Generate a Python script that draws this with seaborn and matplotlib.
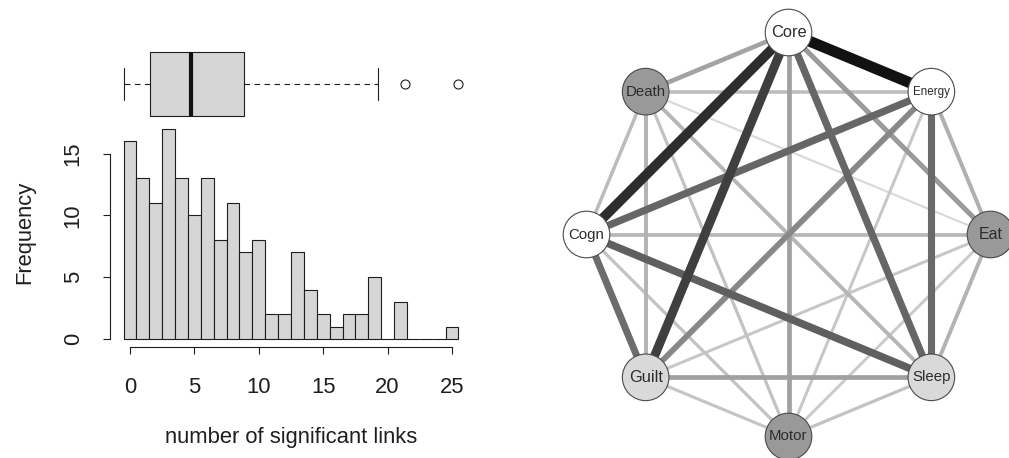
import numpy as np
import matplotlib
matplotlib.use("Agg")
import matplotlib.pyplot as plt
from matplotlib.patches import Circle
import seaborn as sns

# ---- distribution of the number of significant links per item ----
link_values = list(range(26))
link_counts = [16, 13, 11, 17, 13, 10, 13, 8, 11, 7, 8, 2, 2, 7, 4, 2, 1, 2, 2, 5, 0, 3, 0, 0, 0, 1]
x_ticks = [0, 5, 10, 15, 20, 25]
y_ticks = [0, 5, 10, 15]
x_label = "number of significant links"
y_label = "Frequency"

# ---- symptom network ----
nodes = ["Core", "Energy", "Eat", "Sleep", "Motor", "Guilt", "Cogn", "Death"]
node_fill = ["#ffffff", "#ffffff", "#999999", "#d9d9d9", "#999999", "#d9d9d9", "#ffffff", "#999999"]
label_size = [11.8, 8.4, 11.5, 10.8, 10.8, 11.8, 10.8, 10.8]

edge_from = ["Core", "Core", "Core", "Core", "Core", "Core", "Core",
             "Energy", "Energy", "Energy", "Energy", "Energy", "Energy",
             "Cogn", "Cogn", "Cogn", "Cogn", "Death", "Guilt", "Death",
             "Sleep", "Death", "Death", "Sleep", "Guilt", "Guilt", "Motor", "Death"]
edge_to = ["Energy", "Cogn", "Guilt", "Sleep", "Motor", "Death", "Eat",
           "Cogn", "Sleep", "Guilt", "Eat", "Death", "Motor",
           "Sleep", "Guilt", "Eat", "Motor", "Cogn", "Sleep", "Guilt",
           "Eat", "Sleep", "Motor", "Motor", "Motor", "Eat", "Eat", "Eat"]
edge_weight = [1.00, 0.88, 0.80, 0.63, 0.37, 0.36, 0.40,
               0.63, 0.61, 0.48, 0.30, 0.25, 0.20,
               0.66, 0.60, 0.27, 0.22, 0.25, 0.37, 0.29,
               0.29, 0.28, 0.22, 0.22, 0.21, 0.20, 0.19, 0.12]

sns.set_theme(style="ticks")
plt.rcParams["font.family"] = ["Liberation Sans", "DejaVu Sans"]

W, H = 1009, 458
fig = plt.figure(figsize=(W / 100, H / 100), dpi=100)


def px_axes(left, top, right, bottom):
    return fig.add_axes([left / W, 1 - bottom / H, (right - left) / W, (bottom - top) / H])


data = np.repeat(link_values, link_counts)
fill = "#d6d6d6"
ink = "#1e1e1e"

# ---- histogram ----
ax_h = px_axes(110.2, 120.5, 471.8, 347.4)
sns.histplot(x=data, discrete=True, stat="count", color=fill, edgecolor=ink,
             linewidth=0.8, alpha=1, ax=ax_h)
ax_h.set_xlim(-1.54, 26.54)
ax_h.set_ylim(-0.68, 17.68)
ax_h.set_xticks(x_ticks)
ax_h.set_yticks(y_ticks)
ax_h.set_xlabel("")
ax_h.set_ylabel("")
for side in ("top", "right"):
    ax_h.spines[side].set_visible(False)
ax_h.spines["left"].set_bounds(0, 15)
ax_h.spines["bottom"].set_bounds(0, 25)
for side in ("left", "bottom"):
    ax_h.spines[side].set_color(ink)
    ax_h.spines[side].set_linewidth(0.8)
ax_h.tick_params(axis="both", direction="out", length=5, width=0.8, color=ink,
                 labelsize=15.8, labelcolor=ink)
ax_h.tick_params(axis="x", pad=16)
ax_h.tick_params(axis="y", pad=14)
for lab in ax_h.get_yticklabels():
    lab.set_rotation(90)
    lab.set_va("center")
fig.text(25 / W, 1 - 232 / H, y_label, rotation=90, ha="center", va="center",
         fontsize=15.8, color=ink)
fig.text(291 / W, 1 - 437 / H, x_label, ha="center", va="center",
         fontsize=15.8, color=ink)

# ---- boxplot (Tukey hinges) ----
vals = np.sort(data)
n = len(vals)
q1 = np.median(vals[:(n + 1) // 2])
q3 = np.median(vals[n // 2:])
med = np.median(vals)
iqr = q3 - q1
lo_fence, hi_fence = q1 - 1.5 * iqr, q3 + 1.5 * iqr
inside = vals[(vals >= lo_fence) & (vals <= hi_fence)]
outside = np.unique(vals[(vals < lo_fence) | (vals > hi_fence)])
stats = [dict(med=med, q1=q1, q3=q3, whislo=inside.min(), whishi=inside.max(),
              fliers=outside, label="")]

ax_b = px_axes(110.2, 41.2, 471.8, 127.2)
ax_b.bxp(stats, positions=[1], widths=0.8, capwidths=0.4, orientation="horizontal",
         patch_artist=True,
         boxprops=dict(facecolor=fill, edgecolor=ink, linewidth=0.8),
         medianprops=dict(color="#111111", linewidth=3, solid_capstyle="butt"),
         whiskerprops=dict(color=ink, linewidth=0.8, linestyle=(0, (5, 4))),
         capprops=dict(color=ink, linewidth=0.8),
         flierprops=dict(marker="o", markerfacecolor="none", markeredgecolor=ink,
                         markersize=6.5, markeredgewidth=0.8))
ax_b.set_xlim(-1, 26)
ax_b.set_ylim(0.46, 1.54)
ax_b.axis("off")

# ---- network on a circular layout ----
cx, cy, r = 228.5, 223.5, 202.0
aw, ah = 449, 458
ax_n = fig.add_axes([560 / W, 0, aw / W, 1])
ax_n.set_xlim(-cx / r, (aw - cx) / r)
ax_n.set_ylim(-cy / r, (ah - cy) / r)
ax_n.axis("off")

ang = np.deg2rad(90 - 45 * np.arange(len(nodes)))
pos = {name: (np.cos(a), np.sin(a)) for name, a in zip(nodes, ang)}

order = np.argsort(edge_weight)
for i in order:
    w = edge_weight[i]
    g = 0.07 + (1 - w) * 0.8875
    lw_px = 1 + 10 * w
    (x0, y0), (x1, y1) = pos[edge_from[i]], pos[edge_to[i]]
    ax_n.plot([x0, x1], [y0, y1], color=(g, g, g), linewidth=lw_px * 0.72,
              solid_capstyle="butt", zorder=1)

node_r = 23.3 / r
for name, fc, fs in zip(nodes, node_fill, label_size):
    x, y = pos[name]
    ax_n.add_patch(Circle((x, y), node_r, facecolor=fc, edgecolor="#4a4a4a",
                          linewidth=0.8, zorder=3, clip_on=False))
    ax_n.text(x, y, name, ha="center", va="center", fontsize=fs,
              color="#2b2b2b", zorder=4)

fig.savefig("out.png", dpi=100)
